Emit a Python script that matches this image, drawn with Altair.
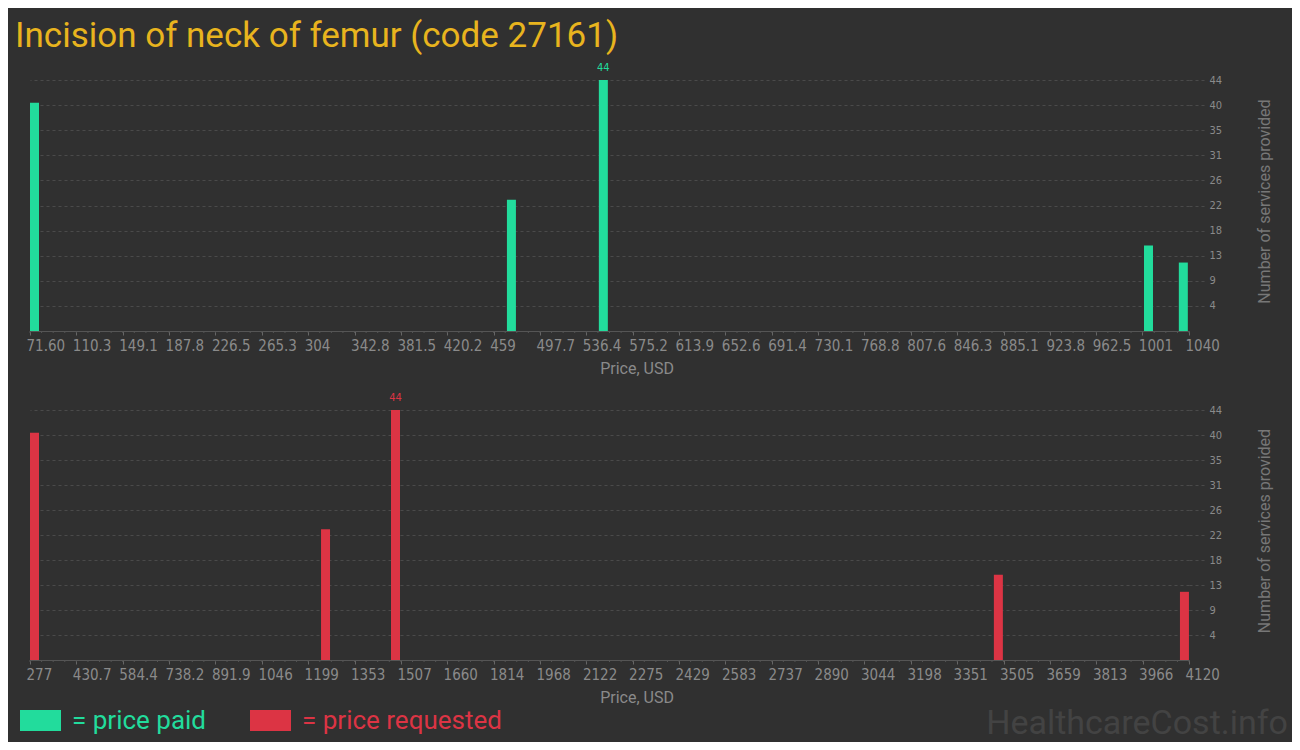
import altair as alt
import pandas as pd

# ---------------- data ----------------
paid_price = [71.6, 470.1, 546.9, 1002.4, 1031.5]
paid_count = [40, 23, 44, 15, 12]
req_price = [277, 1242, 1474, 3473, 4090]
req_count = [40, 23, 44, 15, 12]

paid_ticks = ["71.60", "110.3", "149.1", "187.8", "226.5", "265.3", "304", "342.8",
              "381.5", "420.2", "459", "497.7", "536.4", "575.2", "613.9", "652.6",
              "691.4", "730.1", "768.8", "807.6", "846.3", "885.1", "923.8", "962.5",
              "1001", "1040"]
req_ticks = ["277", "430.7", "584.4", "738.2", "891.9", "1046", "1199", "1353",
             "1507", "1660", "1814", "1968", "2122", "2275", "2429", "2583", "2737",
             "2890", "3044", "3198", "3351", "3505", "3659", "3813", "3966", "4120"]
y_ticks = [4.4, 8.8, 13.2, 17.6, 22.0, 26.4, 30.8, 35.2, 39.6, 44.0]

TITLE = "Incision of neck of femur (code 27161)"
GREEN = "#22dc9c"
RED = "#dc3444"
GOLD = "#e8b41e"
BG = "#303030"
COND = "DejaVu Sans Condensed, sans-serif"
SANS = "Roboto, sans-serif"

W = 1159


def panel(prices, counts, color, ticks, H, top):
    df = pd.DataFrame({"price": prices, "count": counts})
    vals = [float(t) for t in ticks]
    dmin, dmax = vals[0], vals[-1]
    xscale = alt.Scale(domain=[dmin, dmax], nice=False, zero=False, padding=0)
    yscale = alt.Scale(domain=[0, 44], nice=False, zero=True, padding=0)
    first = ticks[0]
    xaxis = alt.Axis(
        values=vals,
        labelExpr=f"datum.value == {vals[0]} ? '{first}' : toString(datum.value)",
        title=None, grid=False,
        domainColor="#555555", tickColor="#666666", tickSize=4,
        labelFont=COND, labelFontSize=15, labelColor="#8a8a8a",
        labelAlign="left", labelOffset=-4, labelPadding=3, labelOverlap=False,
    )
    yaxis = alt.Axis(
        orient="right", values=y_ticks, labelExpr="format(datum.value, '.0f')",
        title=None, grid=True, gridColor="#4a4a4a", gridDash=[3, 3],
        tickColor="#4a4a4a", tickDash=[3, 3], tickSize=16, domain=False,
        labelFont=COND, labelFontSize=11, labelColor="#8a8a8a", labelPadding=4,
    )
    base = alt.Chart(df)
    bars = base.mark_bar(width=9, xOffset=4.5, color=color).encode(
        x=alt.X("price:Q", scale=xscale, axis=xaxis),
        y=alt.Y("count:Q", scale=yscale, axis=yaxis),
    )
    maxlab = base.transform_joinaggregate(mx="max(count)").transform_filter(
        "datum.count == datum.mx"
    ).mark_text(xOffset=4.5, dy=-9, baseline="alphabetic", font=COND,
                fontSize=11, color=color).encode(
        x=alt.X("price:Q", scale=xscale, axis=xaxis),
        y=alt.Y("count:Q", scale=yscale, axis=yaxis),
        text="count:Q",
    )
    step = (dmax - dmin) / 100
    minor = alt.Chart(alt.sequence(0, 101, as_="i")).transform_calculate(
        p=f"{dmin} + datum.i * {step}"
    ).mark_rule(color="#555555").encode(
        x=alt.X("p:Q", scale=xscale, axis=xaxis),
        y=alt.value(H), y2=alt.value(H + 2),
    )
    one = alt.Data(values=[{"a": 1}])
    xtitle = alt.Chart(one).mark_text(font=SANS, fontSize=16, color="#8a8a8a",
                                      align="center", baseline="alphabetic").encode(
        x=alt.value(607), y=alt.value(H + 43), text=alt.value("Price, USD"))
    ytitle = alt.Chart(one).mark_text(font=SANS, fontSize=16, color="#777777",
                                      align="center", baseline="alphabetic",
                                      angle=270).encode(
        x=alt.value(W + 81), y=alt.value(H / 2 - 4),
        text=alt.value("Number of services provided"))
    layers = [minor, bars, maxlab, xtitle, ytitle]
    if top:
        bounds = alt.Chart(one).mark_rect(opacity=0).encode(
            x=alt.value(-22), x2=alt.value(W + 103), y=alt.value(-72), y2=alt.value(H + 59))
        title = alt.Chart(one).mark_text(font=SANS, fontSize=35, color=GOLD,
                                         align="left", baseline="alphabetic").encode(
            x=alt.value(-15), y=alt.value(-33), text=alt.value(TITLE))
        layers = [bounds] + layers + [title]
    else:
        bounds = alt.Chart(one).mark_rect(opacity=0).encode(
            x=alt.value(-22), x2=alt.value(W + 103), y=alt.value(-20), y2=alt.value(H + 82))
        sw1 = alt.Chart(one).mark_rect(color=GREEN).encode(
            x=alt.value(-10), x2=alt.value(31), y=alt.value(H + 50), y2=alt.value(H + 71))
        sw2 = alt.Chart(one).mark_rect(color=RED).encode(
            x=alt.value(220), x2=alt.value(261), y=alt.value(H + 50), y2=alt.value(H + 71))
        t1 = alt.Chart(one).mark_text(font=SANS, fontSize=26, color=GREEN,
                                      align="left", baseline="alphabetic").encode(
            x=alt.value(42), y=alt.value(H + 69), text=alt.value("= price paid"))
        t2 = alt.Chart(one).mark_text(font=SANS, fontSize=26, color=RED,
                                      align="left", baseline="alphabetic").encode(
            x=alt.value(272), y=alt.value(H + 69), text=alt.value("= price requested"))
        wm = alt.Chart(one).mark_text(font=SANS, fontSize=34, color="#434343",
                                      align="right", baseline="alphabetic").encode(
            x=alt.value(W + 99), y=alt.value(H + 74), text=alt.value("HealthcareCost.info"))
        layers = [bounds] + layers + [sw1, sw2, t1, t2, wm]
    return alt.layer(*layers).properties(width=W, height=H)


top = panel(paid_price, paid_count, GREEN, paid_ticks, 251, True)
bottom = panel(req_price, req_count, RED, req_ticks, 250, False)

chart = alt.vconcat(top, bottom, spacing=0).properties(
    padding=0, background=BG
).configure_view(strokeWidth=0)

chart.save("out.html", embed_options={"renderer": "svg", "actions": False})
